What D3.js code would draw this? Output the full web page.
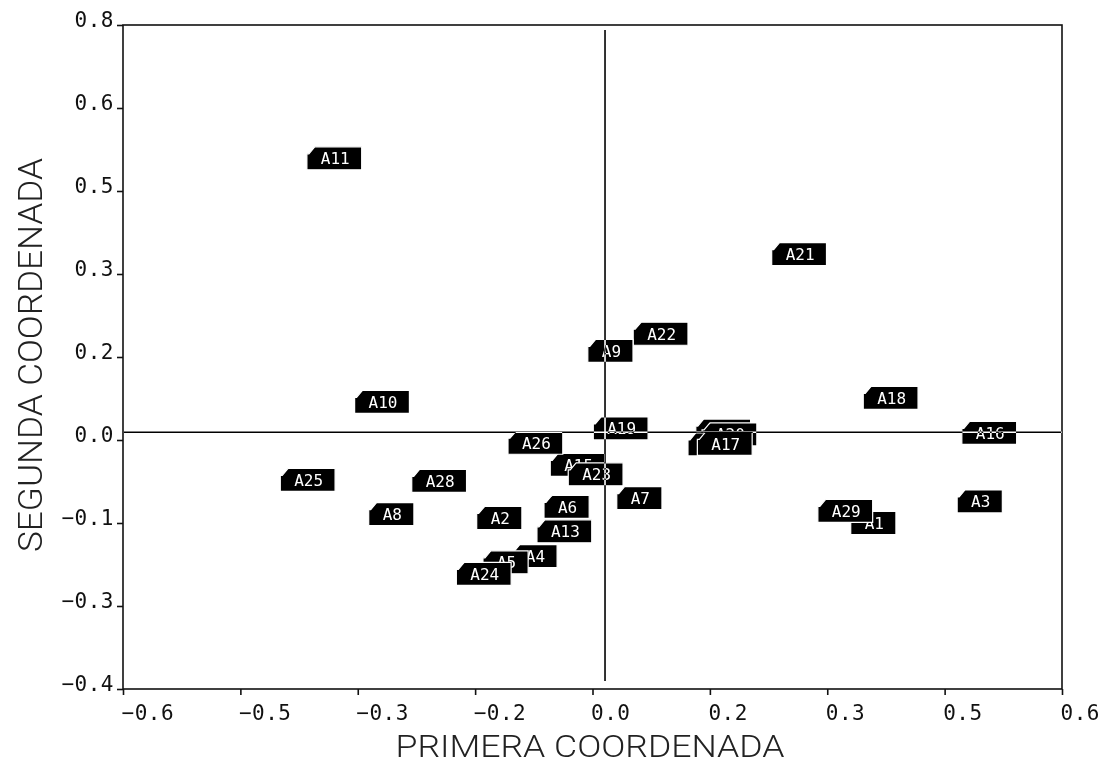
<!DOCTYPE html>
<html>
<head>
<meta charset="utf-8">
<script src="https://cdn.jsdelivr.net/npm/d3@7"></script>
<style>
  html, body { margin: 0; padding: 0; background: #fff; }
  svg { display: block; }
</style>
</head>
<body>
<svg id="chart" width="1106" height="766"></svg>
<script>
// Point labels, drawn in this order (later ones sit on top)
const labels = ["A1","A29","A12","A20","A27","A17","A15","A23","A4","A5","A24",
                "A11","A21","A22","A9","A10","A18","A16","A19","A26","A25","A28",
                "A7","A6","A3","A8","A2","A13"];
// First coordinate of each point
const xs = [0.330, 0.288, 0.132, 0.140, 0.122, 0.134, -0.054, -0.031, -0.103, -0.140, -0.174,
            -0.365, 0.229, 0.052, -0.006, -0.304, 0.346, 0.472, 0.001, -0.108, -0.399, -0.231,
            0.031, -0.062, 0.466, -0.286, -0.148, -0.071];
// Second coordinate of each point
const ys = [-0.100, -0.078, 0.067, 0.060, 0.042, 0.043, 0.005, -0.012, -0.160, -0.171, -0.192,
            0.559, 0.386, 0.242, 0.211, 0.119, 0.126, 0.063, 0.071, 0.045, -0.022, -0.024,
            -0.055, -0.071, -0.061, -0.084, -0.091, -0.115];

// Axis ticks and their printed labels
const xTickValues = [-0.6, -0.45, -0.3, -0.15, 0, 0.15, 0.3, 0.45, 0.6];
const xTickLabels = ["−0.6","−0.5","−0.3","−0.2","0.0","0.2","0.3","0.5","0.6"];
const yTickValues = [0.8, 0.65, 0.5, 0.35, 0.2, 0.05, -0.1, -0.25, -0.4];
const yTickLabels = ["0.8","0.6","0.5","0.3","0.2","0.0","−0.1","−0.3","−0.4"];

// Reference cross position
const crossX = 0.016;
const crossY = 0.064;

const xTitle = "PRIMERA COORDENADA";
const yTitle = "SEGUNDA COORDENADA";

const svg = d3.select("#chart");
const W = 1106, H = 766;
const plotL = 123, plotR = 1062, plotT = 25, plotB = 689;

svg.append("rect").attr("width", W).attr("height", H).attr("fill", "#fff");

const x = d3.scaleLinear().domain([-0.6, 0.6]).range([plotL, plotR]);
const y = d3.scaleLinear().domain([-0.4, 0.8]).range([plotB, plotT]);

const tickFont = "'DejaVu Sans Mono', monospace";
const axisColor = "#111";

// Frame
svg.append("rect")
  .attr("x", plotL).attr("y", plotT)
  .attr("width", plotR - plotL).attr("height", plotB - plotT)
  .attr("fill", "none").attr("stroke", axisColor).attr("stroke-width", 1.6);

// Bottom axis
const xAxis = svg.append("g")
  .attr("transform", `translate(0,${plotB})`)
  .call(d3.axisBottom(x).tickValues(xTickValues).tickSize(6).tickPadding(5)
        .tickFormat((d, i) => xTickLabels[i]));
xAxis.select(".domain").remove();
xAxis.selectAll(".tick line").attr("stroke", axisColor).attr("stroke-width", 1.6);
xAxis.selectAll(".tick text")
  .attr("text-anchor", "start")
  .attr("x", -2)
  .attr("dy", "0.95em")
  .style("font-family", tickFont)
  .style("font-size", "21px")
  .style("letter-spacing", "0.5px")
  .attr("fill", "#111");

// Left axis
const yAxis = svg.append("g")
  .attr("transform", `translate(${plotL},0)`)
  .call(d3.axisLeft(y).tickValues(yTickValues).tickSize(6).tickPadding(3)
        .tickFormat((d, i) => yTickLabels[i]));
yAxis.select(".domain").remove();
yAxis.selectAll(".tick line").attr("stroke", axisColor).attr("stroke-width", 1.6);
yAxis.selectAll(".tick text")
  .attr("dy", "0.05em")
  .style("font-family", tickFont)
  .style("font-size", "21px")
  .style("letter-spacing", "0.5px")
  .attr("fill", "#111");

// Axis titles
svg.append("text")
  .attr("x", 590).attr("y", 757)
  .attr("text-anchor", "middle")
  .attr("textLength", 389).attr("lengthAdjust", "spacingAndGlyphs")
  .style("font-family", "Roboto, sans-serif").style("font-weight", 300)
  .style("font-size", "32px").attr("fill", "#222")
  .text(xTitle);

svg.append("text")
  .attr("transform", `translate(42,355) rotate(-90)`)
  .attr("text-anchor", "middle")
  .attr("textLength", 394).attr("lengthAdjust", "spacingAndGlyphs")
  .style("font-family", "Roboto, sans-serif").style("font-weight", 300)
  .style("font-size", "33px").attr("fill", "#222")
  .text(yTitle);

// Labelled points: black tags with a clipped top-left corner
const charW = 9.6, padW = 26, tagH = 23, cut = 7;
const points = labels.map((lab, i) => ({ lab, vx: xs[i], vy: ys[i] }));

const tags = svg.append("g").selectAll("g.tag")
  .data(points)
  .join("g")
  .attr("class", "tag")
  .attr("transform", d => `translate(${x(d.vx)},${y(d.vy) - tagH / 2})`);

tags.append("path")
  .attr("d", d => {
    const w = d.lab.length * charW + padW;
    return `M0,${cut} L2,${cut} L${cut},1 L${cut + 1},0 L${w},0 L${w},${tagH} L0,${tagH} Z`;
  })
  .attr("fill", "#000")
  .attr("stroke", "#fff")
  .attr("stroke-width", 1.2);

tags.append("text")
  .attr("x", d => (d.lab.length * charW + padW) / 2 + 1)
  .attr("y", tagH / 2)
  .attr("dy", "0.36em")
  .attr("text-anchor", "middle")
  .style("font-family", tickFont)
  .style("font-size", "16px")
  .attr("fill", "#fff")
  .text(d => d.lab);

// Reference cross, drawn in inverting mode so it shows white across the tags
const cross = svg.append("g").style("mix-blend-mode", "difference");
cross.append("line")
  .attr("x1", plotL + 1).attr("x2", plotR)
  .attr("y1", y(crossY)).attr("y2", y(crossY))
  .attr("stroke", "#fff").attr("stroke-width", 1.6);
cross.append("line")
  .attr("x1", x(crossX)).attr("x2", x(crossX))
  .attr("y1", plotT + 5).attr("y2", plotB - 8)
  .attr("stroke", "#fff").attr("stroke-width", 1.6);
</script>
</body>
</html>
